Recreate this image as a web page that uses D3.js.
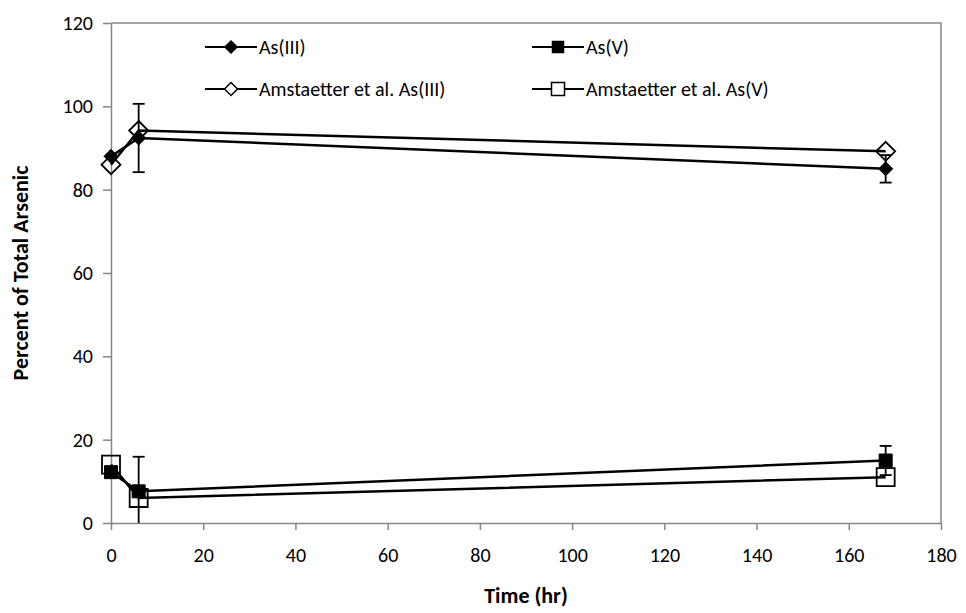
<!DOCTYPE html>
<html>
<head>
<meta charset="utf-8">
<script src="https://cdn.jsdelivr.net/npm/d3@7"></script>
<style>
  html, body { margin: 0; padding: 0; background: #fff; }
  svg { display: block; font-family: Calibri, Carlito, Lato, "Open Sans", sans-serif; }
</style>
</head>
<body>
<svg id="chart" width="966" height="613"></svg>
<script>
// Sampling times (hours)
const times = [0, 6, 168];

// Measured speciation (% of total arsenic) with standard deviations
const as3 = [88, 92.4, 85];
const as3Err = [0, 8.2, 3.3];
const as5 = [12.2, 7.6, 15];
const as5Err = [0, 8.3, 3.5];

// Literature values (Amstaetter et al.)
const amsAs3 = [86, 94.2, 89.2];
const amsAs5 = [14, 6, 11];

// Axis ticks
const xTicks = [0, 20, 40, 60, 80, 100, 120, 140, 160, 180];
const yTicks = [0, 20, 40, 60, 80, 100, 120];

// Legend entries
const legendLabels = ["As(III)", "As(V)", "Amstaetter et al. As(III)", "Amstaetter et al. As(V)"];

const svg = d3.select("#chart");
const plot = { left: 111, top: 23, right: 941, bottom: 523 };

const x = d3.scaleLinear().domain([0, 180]).range([plot.left, plot.right]);
const y = d3.scaleLinear().domain([0, 120]).range([plot.bottom, plot.top]);

const axisColor = "#868686";

svg.append("defs").append("clipPath").attr("id", "plotClip")
  .append("rect")
  .attr("x", plot.left - 20).attr("y", plot.top)
  .attr("width", plot.right - plot.left + 40).attr("height", plot.bottom - plot.top);

// Plot frame: top and right edges
svg.append("path")
  .attr("d", `M${plot.left},${plot.top}H${plot.right}V${plot.bottom}`)
  .attr("fill", "none").attr("stroke", axisColor).attr("stroke-width", 1.5);

// X axis
const xAxis = svg.append("g")
  .attr("transform", `translate(0,${plot.bottom})`)
  .call(d3.axisBottom(x).tickValues(xTicks).tickSize(7).tickPadding(18).tickSizeOuter(0));
// Y axis
const yAxis = svg.append("g")
  .attr("transform", `translate(${plot.left},0)`)
  .call(d3.axisLeft(y).tickValues(yTicks).tickSize(8).tickPadding(10).tickSizeOuter(0));

[xAxis, yAxis].forEach(g => {
  g.select(".domain").attr("stroke", axisColor).attr("stroke-width", 1.5);
  g.selectAll(".tick line").attr("stroke", axisColor).attr("stroke-width", 1.5);
  g.selectAll(".tick text").attr("fill", "#000").attr("font-size", 20)
    .style("font-family", "Calibri, Carlito, Lato, sans-serif");
});

// Axis titles
svg.append("text")
  .attr("x", (plot.left + plot.right) / 2).attr("y", 603)
  .attr("text-anchor", "middle").attr("font-size", 22).attr("font-weight", "bold")
  .text("Time (hr)");
svg.append("text")
  .attr("transform", `translate(28,${(plot.top + plot.bottom) / 2}) rotate(-90)`)
  .attr("text-anchor", "middle").attr("font-size", 22).attr("font-weight", "bold")
  .text("Percent of Total Arsenic");

const line = d3.line().x(d => x(d[0])).y(d => y(d[1]));
const pts = vals => times.map((t, i) => [t, vals[i]]);

const diamond = s => `M0,${-s}L${s},0L0,${s}L${-s},0Z`;
const square = s => `M${-s},${-s}H${s}V${s}H${-s}Z`;

const layer = svg.append("g");

function drawSeries(vals, shape, size, filled) {
  layer.append("path").datum(pts(vals))
    .attr("d", line).attr("fill", "none").attr("stroke", "#000").attr("stroke-width", 2.5);
  layer.selectAll(null).data(pts(vals)).enter().append("path")
    .attr("transform", d => `translate(${x(d[0])},${y(d[1])})`)
    .attr("d", shape(size))
    .attr("fill", filled ? "#000" : "none")
    .attr("stroke", "#000").attr("stroke-width", filled ? 1 : 1.8);
}

// Error bars are clipped at the plot floor
function drawErrors(vals, errs) {
  const data = times.map((t, i) => ({ t, v: vals[i], e: errs[i] })).filter(d => d.e > 0);
  const g = layer.append("g").attr("clip-path", "url(#plotClip)")
    .attr("stroke", "#000").attr("stroke-width", 1.8);
  data.forEach(d => {
    const cx = x(d.t), y1 = y(d.v + d.e), y0 = y(d.v - d.e);
    g.append("line").attr("x1", cx).attr("x2", cx).attr("y1", y1).attr("y2", y0);
    g.append("line").attr("x1", cx - 6).attr("x2", cx + 6).attr("y1", y1).attr("y2", y1);
    g.append("line").attr("x1", cx - 6).attr("x2", cx + 6).attr("y1", y0).attr("y2", y0);
  });
}

// Literature series underneath, measured series with error bars on top
drawSeries(amsAs3, diamond, 9.5, false);
drawSeries(amsAs5, square, 9, false);
drawErrors(as3, as3Err);
drawErrors(as5, as5Err);
drawSeries(as3, diamond, 7, true);
drawSeries(as5, square, 6.5, true);

// Legend
const legendItems = [
  { label: legendLabels[0], x: 205, y: 47, shape: diamond, size: 6, filled: true },
  { label: legendLabels[1], x: 532, y: 47, shape: square, size: 5.5, filled: true },
  { label: legendLabels[2], x: 205, y: 89, shape: diamond, size: 6.5, filled: false },
  { label: legendLabels[3], x: 532, y: 89, shape: square, size: 6.5, filled: false }
];
const leg = svg.append("g");
legendItems.forEach(it => {
  const g = leg.append("g").attr("transform", `translate(${it.x},${it.y})`);
  g.append("line").attr("x1", 0).attr("x2", 52).attr("stroke", "#000").attr("stroke-width", 2);
  g.append("path").attr("transform", "translate(26,0)").attr("d", it.shape(it.size))
    .attr("fill", it.filled ? "#000" : "#fff").attr("stroke", "#000").attr("stroke-width", 1.5);
  g.append("text").attr("x", 54).attr("dy", "0.35em").attr("font-size", 20).text(it.label);
});
</script>
</body>
</html>
